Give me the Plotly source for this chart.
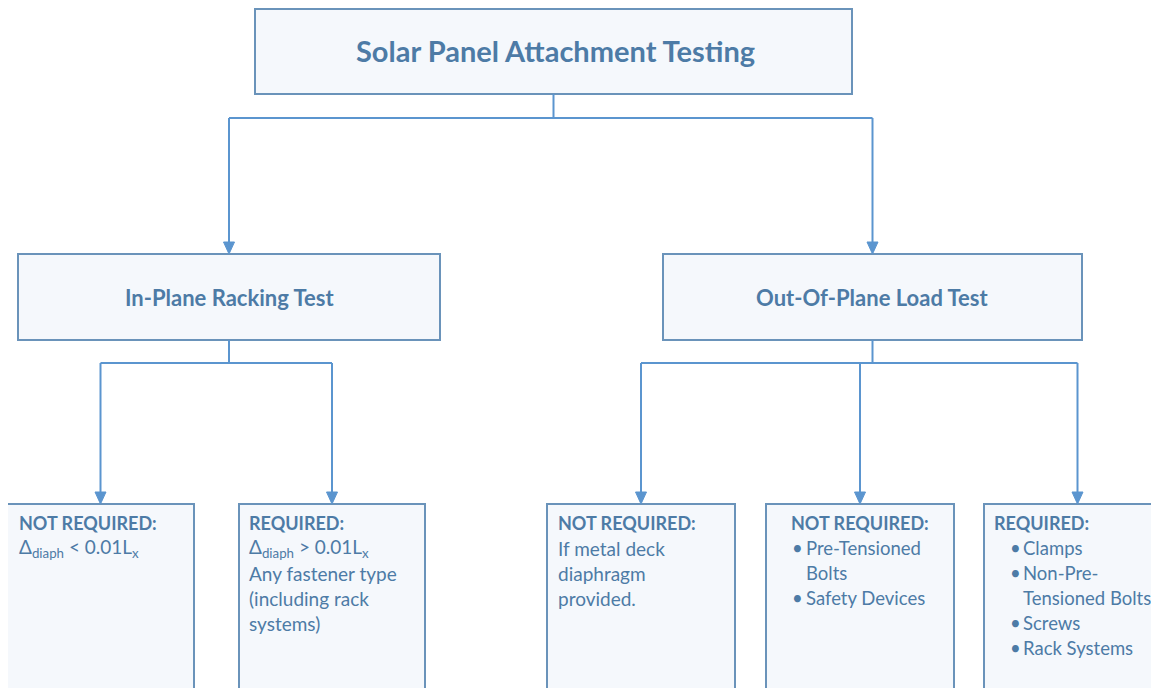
import plotly.graph_objects as go

# ---------------- content ----------------
title_text = "Solar Panel Attachment Testing"
test_names = ["In-Plane Racking Test", "Out-Of-Plane Load Test"]
outcome_heads = ["NOT REQUIRED:", "REQUIRED:", "NOT REQUIRED:", "NOT REQUIRED:", "REQUIRED:"]
outcome_parent = [0, 0, 1, 1, 1]
# plain text lines (no bullets)
outcome_plain = [
    ["Δ<sub>diaph</sub> &lt; 0.01L<sub>x</sub>"],
    ["Δ<sub>diaph</sub> &gt; 0.01L<sub>x</sub>", "Any fastener type", "(including rack", "systems)"],
    ["If metal deck", "diaphragm", "provided."],
    [],
    [],
]
# bullet items (each item may wrap on several lines)
outcome_bullets = [
    [],
    [],
    [],
    [["Pre-Tensioned", "Bolts"], ["Safety Devices"]],
    [["Clamps"], ["Non-Pre-", "Tensioned Bolts"], ["Screws"], ["Rack Systems"]],
]

# ---------------- geometry / style ----------------
W, H = 1159, 688
OFF = 8  # page body margin of the html output
TEXT = "#4d7ba6"
BORDER = "#6a93ba"
ARROW = "#5b95cf"
FILL = "#f5f8fc"
FONT = "Lato"
HEAD_SIZE = 18
BODY_SIZE = 19
BULLET_SIZE = 18.5

top_box = (255, 9, 852, 94)
mid_boxes = [(18, 254, 440, 340), (663, 254, 1082, 340)]
bot_x = [(7, 194), (239, 425), (547, 735), (766, 954), (984, 1171)]
bot_top, bot_bottom = 504, 720
bus_top_y = 118
bus_mid_y = 363
text_pad = [10, 8, 9, 23, 8]
bullet_dx = [0, 0, 0, 1, 16]
bullet_text_dx = [0, 0, 0, 14, 13]
line0_y = 523
line_h = 25

fig = go.Figure()
shapes = []
annotations = []


def box(x0, y0, x1, y1):
    shapes.append(dict(type="rect", x0=x0, y0=y0, x1=x1, y1=y1, xref="x", yref="y",
                       line=dict(color=BORDER, width=2), fillcolor=FILL, layer="below"))


def seg(x0, y0, x1, y1):
    shapes.append(dict(type="line", x0=x0, y0=y0, x1=x1, y1=y1, xref="x", yref="y",
                       line=dict(color=ARROW, width=2)))


def arrow(x, y0, y1):
    seg(x, y0, x, y1 - 10)
    shapes.append(dict(type="path", path=f"M {x-5.5},{y1-12} L {x+5.5},{y1-12} L {x},{y1} Z",
                       xref="x", yref="y", fillcolor=ARROW, line=dict(color=ARROW, width=1)))


def center(b):
    return (b[0] + b[2]) / 2


def label(x, y, text, size, anchor="left"):
    annotations.append(dict(x=x, y=y, text=text, showarrow=False,
                            font=dict(family=FONT, size=size, color=TEXT),
                            xanchor=anchor, yanchor="middle"))


# top box
box(*top_box)
label(center(top_box) + 2, (top_box[1] + top_box[3]) / 2 - 1, f"<b>{title_text}</b>", 29, "center")

# top -> mid connectors
mid_centers = [center(b) for b in mid_boxes]
seg(center(top_box), top_box[3], center(top_box), bus_top_y)
seg(min(mid_centers), bus_top_y, max(mid_centers), bus_top_y)
for i, b in enumerate(mid_boxes):
    arrow(mid_centers[i], bus_top_y, b[1])

# mid boxes
for i, b in enumerate(mid_boxes):
    box(*b)
    label(center(b), (b[1] + b[3]) / 2, f"<b>{test_names[i]}</b>", 22, "center")

# mid -> bottom connectors
bot_centers = [(a + c) / 2 for a, c in bot_x]
for p, b in enumerate(mid_boxes):
    kids = [k for k, q in enumerate(outcome_parent) if q == p]
    xs = [bot_centers[k] for k in kids]
    seg(center(b), b[3], center(b), bus_mid_y)
    seg(min(xs), bus_mid_y, max(xs), bus_mid_y)
    for k in kids:
        arrow(bot_centers[k], bus_mid_y, bot_top)

# bottom boxes
for k, (x0, x1) in enumerate(bot_x):
    box(x0, bot_top, x1, bot_bottom)
    tx = x0 + text_pad[k]
    label(tx, line0_y, f"<b>{outcome_heads[k]}</b>", HEAD_SIZE)
    row = 1
    for line in outcome_plain[k]:
        label(tx, line0_y + row * line_h, line, BODY_SIZE)
        row += 1
    for item in outcome_bullets[k]:
        label(tx + bullet_dx[k], line0_y + row * line_h, "•", BULLET_SIZE)
        for line in item:
            label(tx + bullet_dx[k] + bullet_text_dx[k], line0_y + row * line_h, line, BULLET_SIZE)
            row += 1

fig.update_layout(
    width=W, height=H, margin=dict(l=0, r=0, t=0, b=0),
    paper_bgcolor="white", plot_bgcolor="white",
    xaxis=dict(range=[OFF, W + OFF], visible=False, fixedrange=True),
    yaxis=dict(range=[H + OFF, OFF], visible=False, fixedrange=True),
    shapes=shapes, annotations=annotations, showlegend=False,
)
fig.write_html("out.html")
